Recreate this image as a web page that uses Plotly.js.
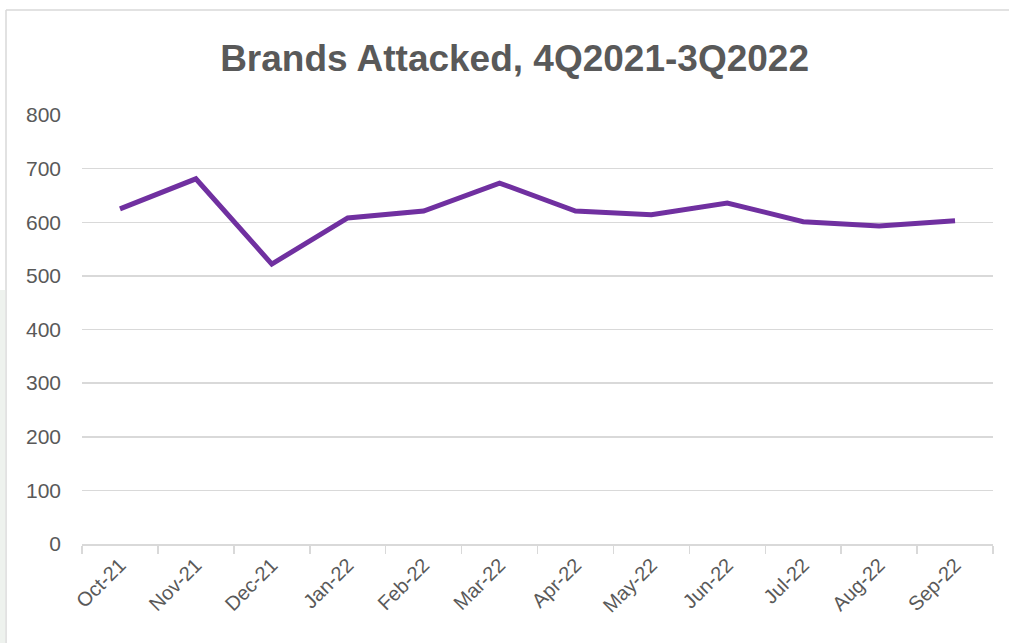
<!DOCTYPE html>
<html>
<head>
<meta charset="utf-8">
<script src="https://cdn.plot.ly/plotly-3.0.1.min.js"></script>
<style>
html,body{margin:0;padding:0;background:#fff;}
#chart{width:1009px;height:643px;}
</style>
</head>
<body>
<div id="chart"></div>
<script>
const months = ["Oct-21","Nov-21","Dec-21","Jan-22","Feb-22","Mar-22","Apr-22","May-22","Jun-22","Jul-22","Aug-22","Sep-22"];
const brandsAttacked = [625, 681, 522, 608, 621, 673, 621, 614, 636, 601, 593, 603];
const yTicks = [0, 100, 200, 300, 400, 500, 600, 700, 800];

const trace = {
  type: "scatter",
  mode: "lines",
  x: months,
  y: brandsAttacked,
  line: {color: "#7030a0", width: 5},
  hoverinfo: "x+y"
};

const layout = {
  width: 1009,
  height: 643,
  paper_bgcolor: "#ffffff",
  plot_bgcolor: "#ffffff",
  margin: {l: 82, r: 16, t: 115, b: 99},
  showlegend: false,
  title: {
    text: "<b>Brands Attacked, 4Q2021-3Q2022</b>",
    font: {family: "Liberation Sans, sans-serif", size: 37, color: "#595959"},
    x: 0.51, xanchor: "center",
    y: 0.91, yanchor: "middle"
  },
  xaxis: {
    type: "category",
    range: [-0.5, 11.5],
    tickangle: -45,
    tickson: "boundaries",
    ticks: "outside",
    ticklen: 8,
    tickcolor: "#d9d9d9",
    tickwidth: 1.5,
    showline: true,
    linecolor: "#d9d9d9",
    linewidth: 1.5,
    showgrid: false,
    zeroline: false,
    tickfont: {family: "Liberation Sans, sans-serif", size: 20, color: "#595959"}
  },
  yaxis: {
    range: [0, 800],
    tickvals: yTicks,
    ticktext: yTicks.map(String),
    showgrid: true,
    gridcolor: "#d9d9d9",
    gridwidth: 1.5,
    zeroline: false,
    showline: false,
    ticks: "",
    ticklabelstandoff: 20,
    tickfont: {family: "Liberation Sans, sans-serif", size: 21, color: "#595959"}
  },
  shapes: [
    {type: "line", xref: "paper", yref: "paper",
     x0: -76/911, x1: 1015/911, y0: 1 + 105/429, y1: 1 + 105/429,
     line: {color: "#d9d9d9", width: 1.5}},
    {type: "line", xref: "paper", yref: "paper",
     x0: -76/911, x1: -76/911, y0: 1 + 105/429, y1: -110/429,
     line: {color: "#d9d9d9", width: 1.5}},
    {type: "rect", xref: "paper", yref: "paper",
     x0: -84/911, x1: -76.8/911, y0: 1 - 175/429, y1: -110/429,
     fillcolor: "#eef2ee", line: {width: 0}}
  ]
};

Plotly.newPlot("chart", [trace], layout, {displayModeBar: false, staticPlot: true});
</script>
</body>
</html>
